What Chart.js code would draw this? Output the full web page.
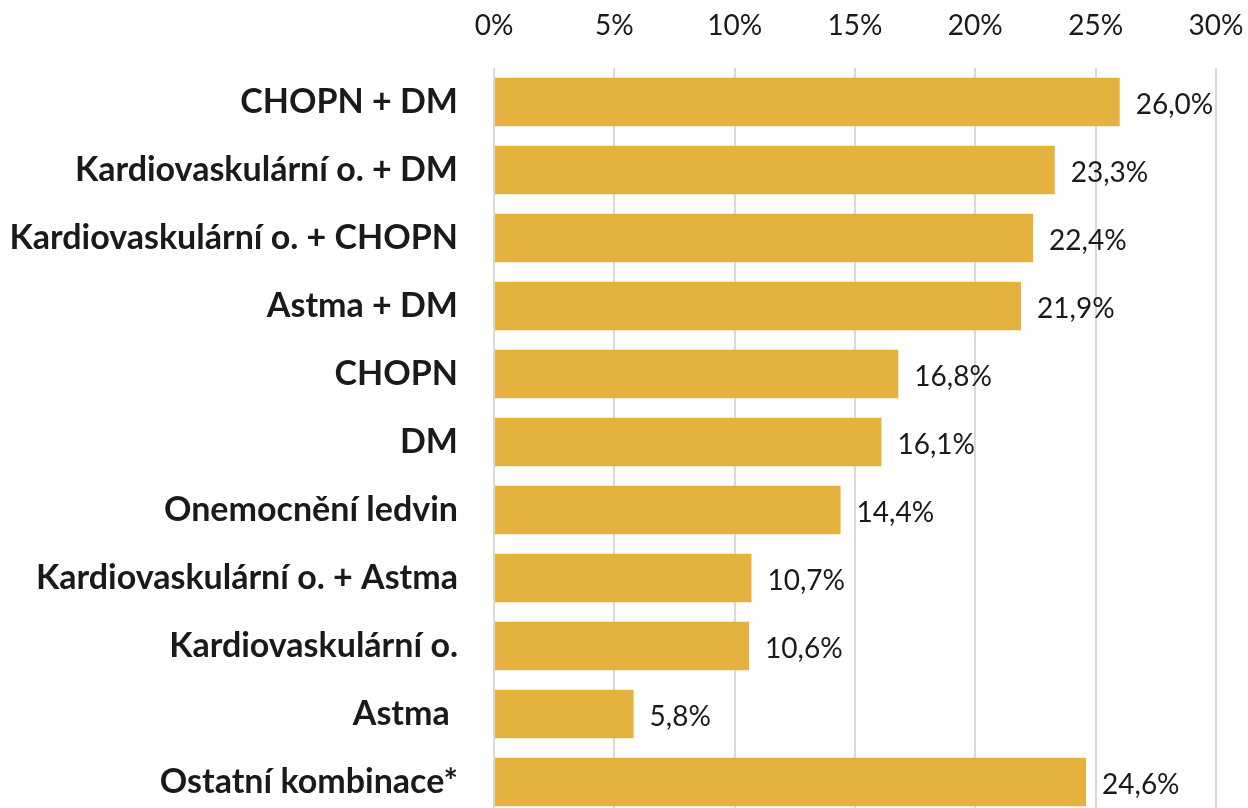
<!DOCTYPE html>
<html>
<head>
<meta charset="utf-8">
<script src="https://cdn.jsdelivr.net/npm/chart.js@4/dist/chart.umd.min.js"></script>
<style>
  html, body { margin: 0; padding: 0; background: #fff; overflow: hidden; }
  canvas { display: block; }
</style>
</head>
<body>
<canvas id="chart" width="1248" height="816"></canvas>
<script>
const categories = [
  "CHOPN + DM",
  "Kardiovaskulární o. + DM",
  "Kardiovaskulární o. + CHOPN",
  "Astma + DM",
  "CHOPN",
  "DM",
  "Onemocnění ledvin",
  "Kardiovaskulární o. + Astma",
  "Kardiovaskulární o.",
  "Astma ",
  "Ostatní kombinace*"
];
const shares = [26.0, 23.3, 22.4, 21.9, 16.8, 16.1, 14.4, 10.7, 10.6, 5.8, 24.6];
const axisMax = 30;
const axisStep = 5;

const barColor = "#E6B23F";
const textColor = "#1a1a1a";
const fontName = "Lato, 'Open Sans', sans-serif";

// labels like "26,0%" next to each bar
const valueLabels = {
  id: "valueLabels",
  afterDatasetsDraw(chart) {
    const ctx = chart.ctx;
    const meta = chart.getDatasetMeta(0);
    ctx.save();
    ctx.font = "28px " + fontName;
    ctx.fillStyle = textColor;
    ctx.textAlign = "left";
    ctx.textBaseline = "middle";
    meta.data.forEach((bar, i) => {
      const txt = shares[i].toFixed(1).replace(".", ",") + "%";
      ctx.fillText(txt, bar.x + 16, bar.y + 3);
    });
    ctx.restore();
  }
};

const ctx = document.getElementById("chart").getContext("2d");
new Chart(ctx, {
  type: "bar",
  data: {
    labels: categories,
    datasets: [{
      data: shares,
      backgroundColor: barColor,
      barPercentage: 0.71,
      categoryPercentage: 1.0
    }]
  },
  options: {
    indexAxis: "y",
    responsive: false,
    animation: false,
    layout: { padding: { left: 0, right: 32, top: 0, bottom: 0 } },
    plugins: {
      legend: { display: false },
      tooltip: { enabled: false }
    },
    scales: {
      x: {
        position: "top",
        min: 0,
        max: axisMax,
        ticks: {
          stepSize: axisStep,
          padding: 25,
          color: textColor,
          font: { family: fontName, size: 28 },
          callback: (v) => v + "%"
        },
        grid: { color: "#d9d9d9", lineWidth: 2, drawTicks: false },
        border: { display: false },
        afterFit(scale) {
          scale.height = 68;
          scale.paddingLeft = 0;
          scale.paddingRight = 0;
        }
      },
      y: {
        ticks: {
          padding: 36,
          color: textColor,
          font: { family: fontName, size: 34, weight: "bold" }
        },
        grid: { display: false, drawTicks: false },
        border: { display: false },
        afterFit(scale) {
          scale.width = 494;
          scale.paddingTop = 0;
          scale.paddingBottom = 0;
        }
      }
    }
  },
  plugins: [valueLabels]
});
</script>
</body>
</html>
